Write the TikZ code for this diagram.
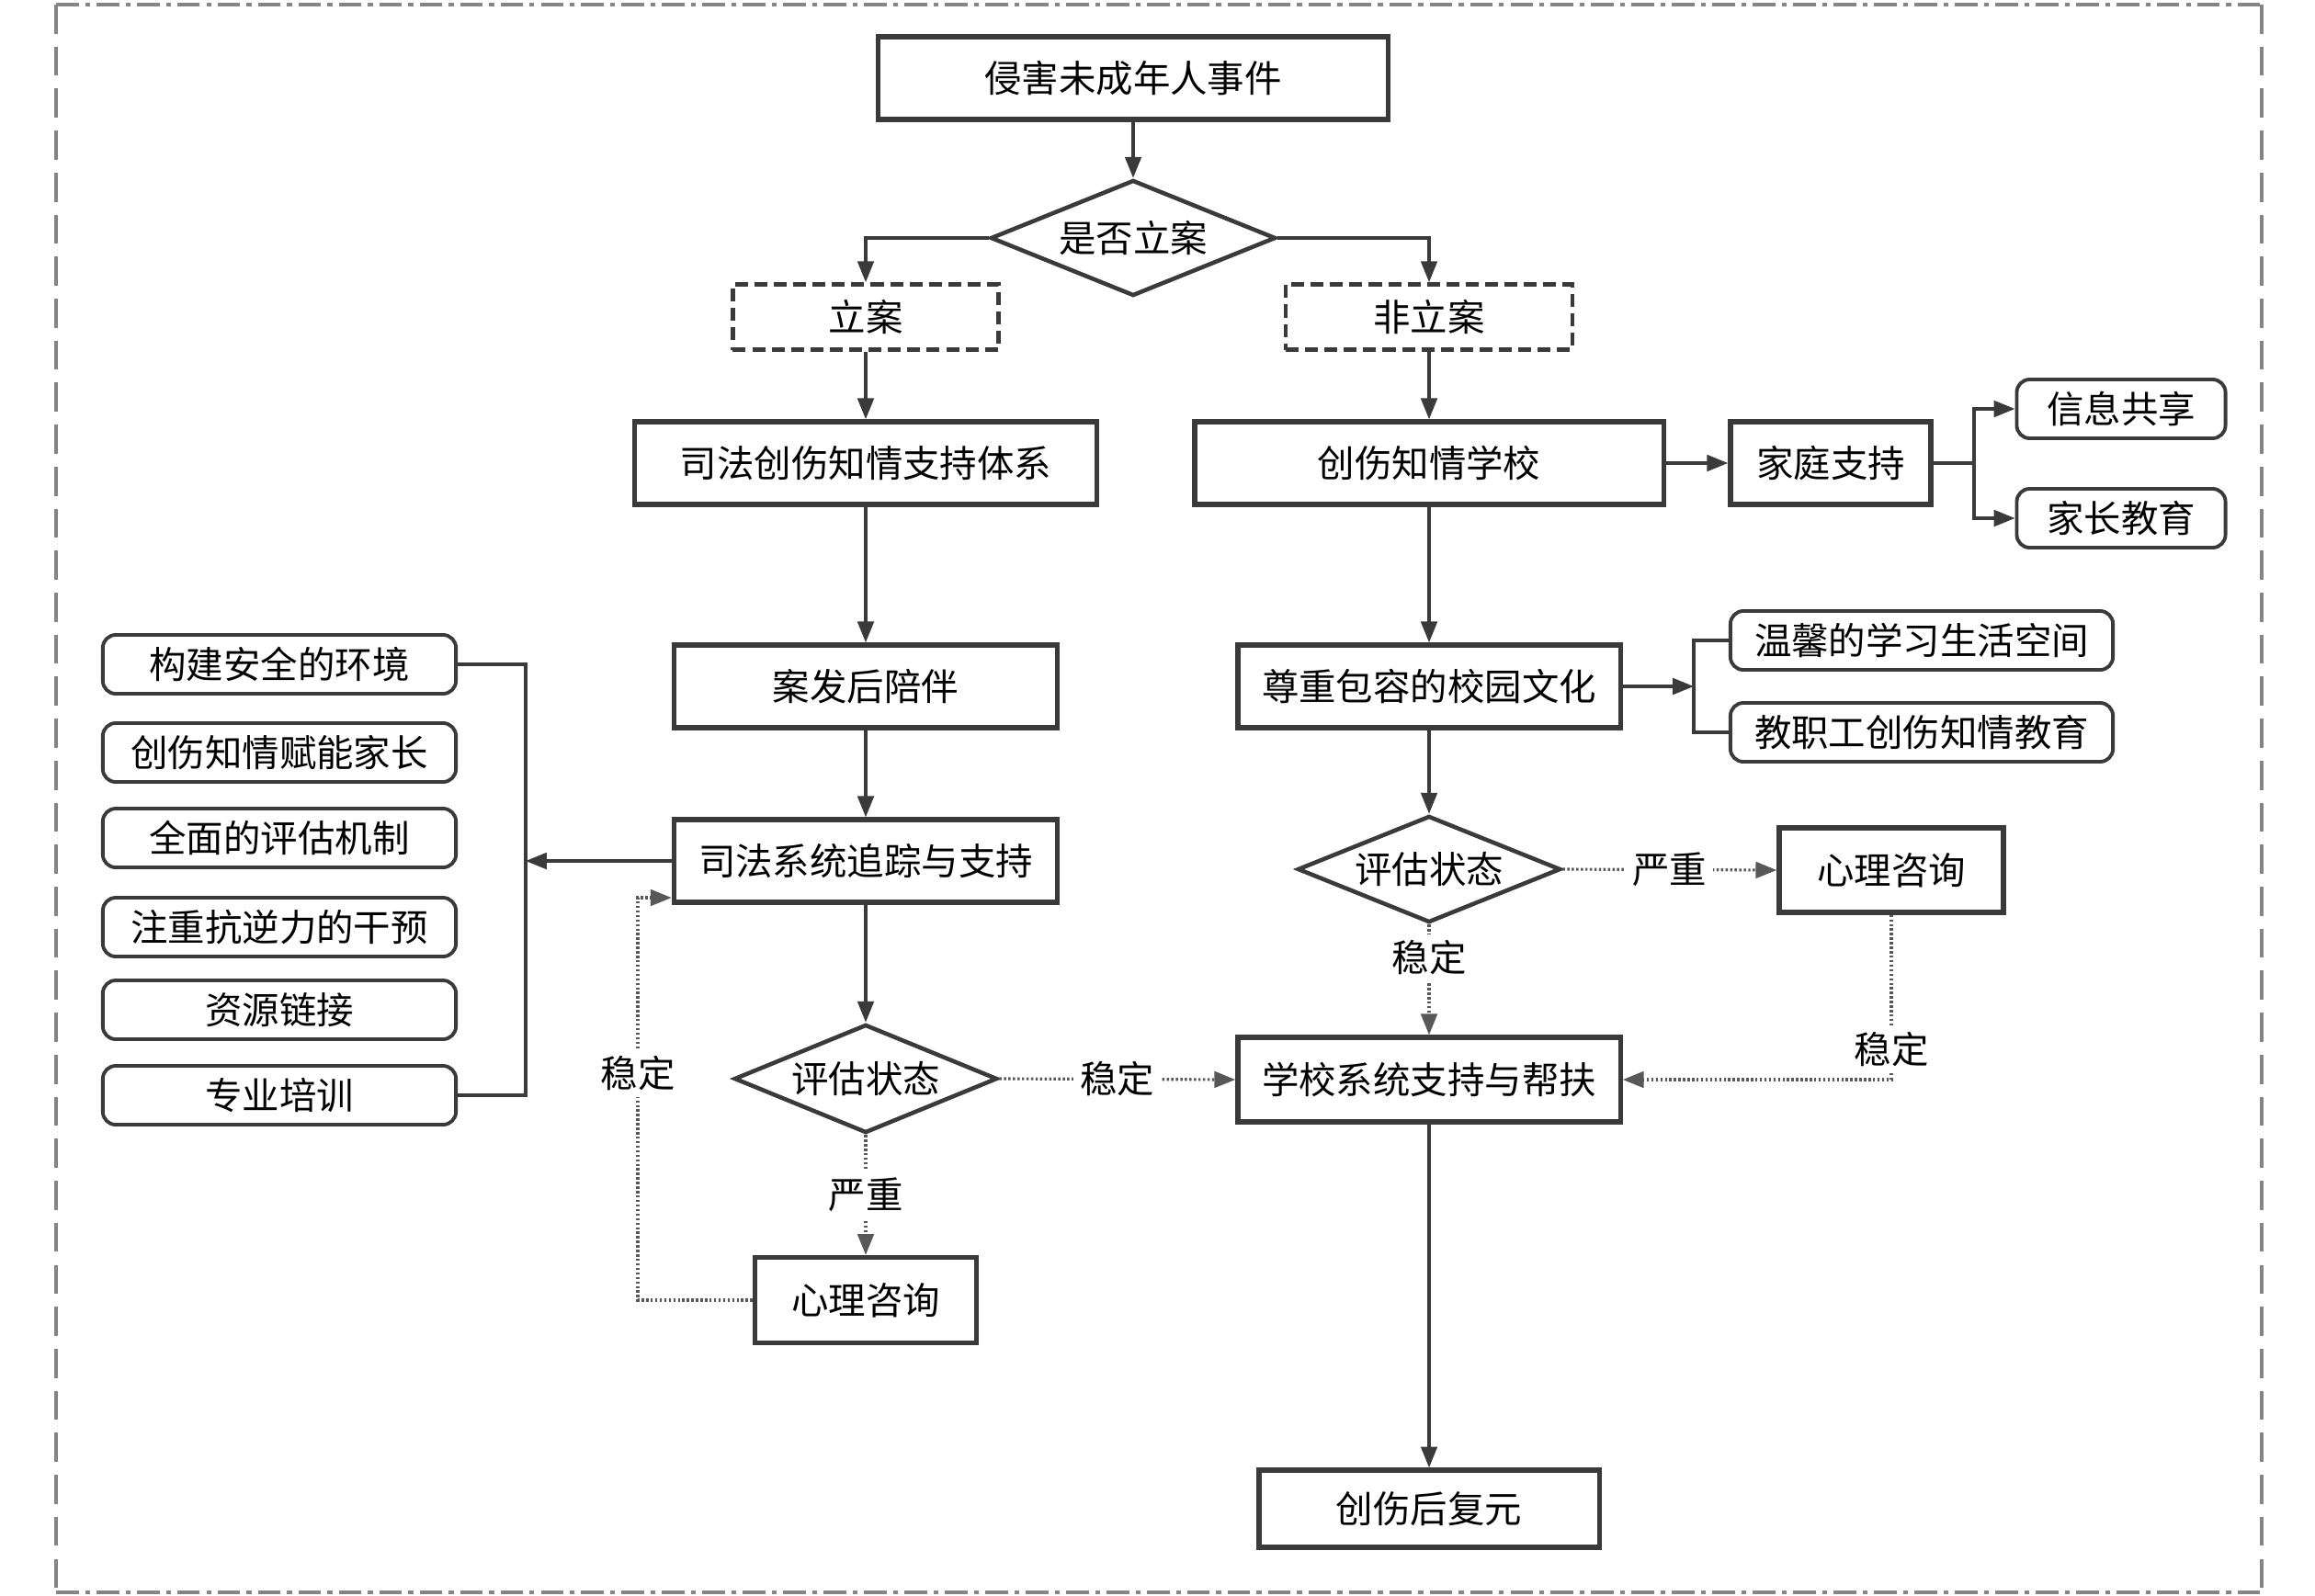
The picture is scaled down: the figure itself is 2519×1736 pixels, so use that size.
\documentclass[tikz,border=0pt]{standalone}
\usepackage{fontspec}
\setmainfont{Noto Sans CJK SC}
\usetikzlibrary{arrows.meta,shapes.geometric}
\definecolor{ln}{HTML}{3A3A3A}
\definecolor{fr}{HTML}{858585}
\begin{document}
\begin{tikzpicture}[x=0.01cm,y=-0.01cm,
 font=\fontsize{11.5pt}{14pt}\selectfont,
 box/.style={draw=ln, line width=1.5pt, minimum height=0.9cm, inner sep=0pt, text=black},
 dbox/.style={draw=ln, line width=1.3pt, dash pattern=on 4pt off 2pt, minimum height=0.71cm, inner sep=0pt},
 rbox/.style={draw=ln, line width=1.1pt, rounded corners=4pt, minimum width=3.84cm, minimum height=0.64cm, inner sep=0pt},
 dia/.style={draw=ln, line width=1.3pt, diamond, inner sep=0pt},
 arr/.style={draw=ln, line width=0.9pt, -{Triangle[length=6.5pt,width=5pt]}},
 solidln/.style={draw=ln, line width=0.9pt},
 dotln/.style={draw=ln!85, line width=0.9pt, dash pattern=on 0.7pt off 0.7pt},
 dotarr/.style={dotln, -{Triangle[length=6.5pt,width=5pt]}},
 lab/.style={fill=white, inner sep=2pt}
]
\useasboundingbox (0,0) rectangle (2519,1736);
% frame
\draw[fr, line width=0.9pt, dash pattern=on 7pt off 2pt on 1.5pt off 2pt] (61,5) -- (2461,5);
\draw[fr, line width=0.9pt, dash pattern=on 7pt off 2pt on 1.5pt off 2pt] (61,1733) -- (2461,1733);
\draw[fr, line width=0.9pt, dash pattern=on 9pt off 4pt] (61,5) -- (61,1733);
\draw[fr, line width=0.9pt, dash pattern=on 9pt off 4pt] (2461,5) -- (2461,1733);

% nodes
\node[box, minimum width=5.54cm] (top) at (1233,85) {侵害未成年人事件};
\node[dia, minimum width=3.1cm, minimum height=1.26cm, aspect=2.46] (q1) at (1233,259) {是否立案};
\node[dbox, minimum width=2.89cm] (la) at (942,345) {立案};
\node[dbox, minimum width=3.12cm] (fla) at (1555,345) {非立案};
\node[box, minimum width=5.03cm] (sf) at (942,504) {司法创伤知情支持体系};
\node[box, minimum width=5.10cm] (sch) at (1555,504) {创伤知情学校};
\node[box, minimum width=2.18cm] (fam) at (1992,504) {家庭支持};
\node[rbox, minimum width=2.27cm] (info) at (2308,445) {信息共享};
\node[rbox, minimum width=2.27cm] (par) at (2308,564) {家长教育};
\node[box, minimum width=4.17cm] (pei) at (942,747) {案发后陪伴};
\node[box, minimum width=4.16cm] (zr) at (1555,747) {尊重包容的校园文化};
\node[rbox, minimum width=4.16cm] (wx) at (2091,697) {温馨的学习生活空间};
\node[rbox, minimum width=4.16cm] (jz) at (2091,797) {教职工创伤知情教育};
\node[rbox] (b1) at (304,723) {构建安全的环境};
\node[rbox] (b2) at (304,819) {创伤知情赋能家长};
\node[rbox] (b3) at (304,912) {全面的评估机制};
\node[rbox] (b4) at (304,1009) {注重抗逆力的干预};
\node[rbox] (b5) at (304,1099) {资源链接};
\node[rbox] (b6) at (304,1192) {专业培训};
\node[box, minimum width=4.17cm] (zz) at (942,937) {司法系统追踪与支持};
\node[dia, minimum width=2.86cm, minimum height=1.18cm, aspect=2.42] (d1) at (942,1174) {评估状态};
\node[box, minimum width=4.16cm, minimum height=0.92cm] (xx) at (1555,1175) {学校系统支持与帮扶};
\node[box, minimum width=2.41cm, minimum height=0.93cm] (psy1) at (942,1415) {心理咨询};
\node[dia, minimum width=2.86cm, minimum height=1.16cm, aspect=2.47] (d2) at (1555,946) {评估状态};
\node[box, minimum width=2.44cm, minimum height=0.92cm] (psy2) at (2058,947) {心理咨询};
\node[box, minimum width=3.70cm, minimum height=0.84cm] (rec) at (1555,1642) {创伤后复元};

% coordinates
\coordinate (cl) at (572,937);
\coordinate (ct) at (572,723);
\coordinate (cb) at (572,1192);
\coordinate (fb) at (2148,504);
\coordinate (zb) at (1843,747);
\coordinate (lb) at (694,1415);
\coordinate (lt) at (694,977);

% solid connectors
\draw[arr] (top) -- (q1);
\draw[arr] (q1.west) -| (la.north);
\draw[arr] (q1.east) -| (fla.north);
\draw[arr] (la) -- (sf);
\draw[arr] (fla) -- (sch);
\draw[arr] (sf) -- (pei);
\draw[arr] (pei) -- (zz);
\draw[arr] (zz) -- (d1);
\draw[arr] (zz.west) -- (cl);
\draw[solidln] (b1.east) -- (ct) -- (cb) -- (b6.east);
\draw[arr] (sch) -- (fam);
\draw[solidln] (fam.east) -- (fb);
\draw[arr] (fb) |- (info.west);
\draw[arr] (fb) |- (par.west);
\draw[arr] (sch) -- (zr);
\draw[arr] (zr.east) -- (zb);
\draw[solidln] (wx.west) -| (zb) |- (jz.west);
\draw[arr] (zr) -- (d2);
\draw[arr] (xx) -- (rec);

% dotted connectors
\draw[dotarr] (d2.east) -- (psy2.west) node[lab, midway] {严重};
\draw[dotarr] (d2.south) -- (xx.north) node[lab, pos=0.3] {稳定};
\draw[dotarr] (psy2.south) |- (xx.east);
\node[lab] (l3) at (2058,1142) {稳定};
\draw[dotarr] (d1.east) -- (xx.west) node[lab, midway] {稳定};
\draw[dotarr] (d1.south) -- (psy1.north) node[lab, midway] {严重};
\draw[dotarr] (psy1.west) -- (lb) -- (lt) -- (lt -| zz.west);
\node[lab] (l4) at (694,1168) {稳定};
\end{tikzpicture}
\end{document}
